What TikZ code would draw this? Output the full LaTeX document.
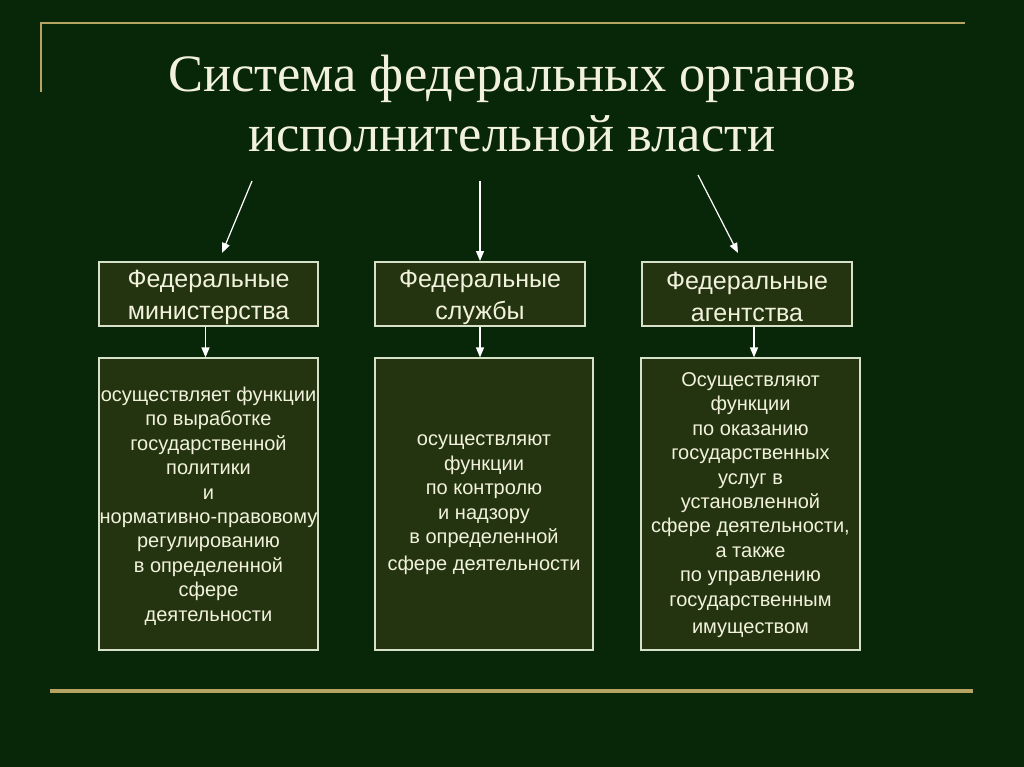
\documentclass[tikz,border=0pt]{standalone}
\usepackage{fontspec}
\setmainfont{Liberation Serif}
\newfontfamily\arialf{Liberation Sans}
\usetikzlibrary{arrows.meta}
\definecolor{bgc}{RGB}{8,38,8}
\definecolor{boxc}{RGB}{36,52,16}
\definecolor{edgec}{RGB}{215,225,200}
\definecolor{goldc}{RGB}{184,164,98}
\definecolor{txtc}{RGB}{242,242,220}
\tikzset{
  topbox/.style={draw=edgec, fill=boxc, line width=1.2pt, minimum height=64pt, inner sep=0pt},
  lowbox/.style={draw=edgec, fill=boxc, line width=1.2pt, minimum height=292pt, inner sep=0pt},
  toptxt/.style={text=txtc, align=center, font=\arialf\fontsize{25}{32}\selectfont},
  lowtxt/.style={text=txtc, align=center, font=\arialf\fontsize{20}{24.4}\selectfont},
  arr/.style={draw=white, line width=1.2pt, -{Triangle[length=10pt,width=8pt]}},
  goldline/.style={draw=goldc}
}
\begin{document}
\begin{tikzpicture}[x=1pt,y=-1pt]
\fill[bgc] (0,0) rectangle (1024,767);
\useasboundingbox (0,0) rectangle (1024,767);
\draw[goldline, line width=2.5pt] (41,92) -- (41,23) -- (965,23);
\draw[goldline, line width=4pt] (50,691) -- (973,691);

\node[text=txtc, align=center, font=\fontsize{52.5}{60}\selectfont] (title) at (512,104)
  {Система федеральных органов\\исполнительной власти};

\node[topbox, minimum width=219pt] (m1) at (208.5,294) {};
\node[topbox, minimum width=210pt] (m2) at (480,294) {};
\node[topbox, minimum width=210pt] (m3) at (747,294) {};
\node[toptxt] (m1t) at ([yshift=-3pt]m1.center) {Федеральные\\министерства};
\node[toptxt] (m2t) at ([yshift=-3pt]m2.center) {Федеральные\\службы};
\node[toptxt] (m3t) at ([yshift=-3pt]m3.center) {Федеральные\\агентства};

\node[lowbox, minimum width=219pt] (b1) at (208.5,504) {};
\node[lowbox, minimum width=218pt] (b2) at (484,504) {};
\node[lowbox, minimum width=219pt] (b3) at (750.5,504) {};
\node[lowtxt] (b1t) at ([yshift=-2pt]b1.center) {осуществляет функции\\по выработке\\государственной\\политики\\и\\нормативно-правовому\\регулированию\\в определенной\\сфере\\деятельности};
\node[lowtxt] (b2t) at ([yshift=-1pt]b2.center) {осуществляют\\функции\\по контролю\\и надзору\\в определенной\\[3pt]сфере деятельности};
\node[lowtxt] (b3t) at ([yshift=-1pt]b3.center) {Осуществляют\\функции\\по оказанию\\государственных\\услуг в\\установленной\\сфере деятельности,\\а также\\по управлению\\государственным\\[3pt]имуществом};

\coordinate (s1) at (252,181);
\coordinate (e1) at (222,253);
\coordinate (s2) at (480,181);
\coordinate (e2) at (480,261);
\coordinate (s3) at (698,175);
\coordinate (e3) at (738,253);
\draw[arr] (s1) -- (e1);
\draw[arr] (s2) -- (e2);
\draw[arr] (s3) -- (e3);

\draw[arr] ([xshift=-3pt]m1.south) -- ([xshift=-3pt]m1.south |- b1.north);
\draw[arr] (m2.south) -- (m2.south |- b2.north);
\draw[arr] ([xshift=7pt]m3.south) -- ([xshift=7pt]m3.south |- b3.north);
\end{tikzpicture}
\end{document}
